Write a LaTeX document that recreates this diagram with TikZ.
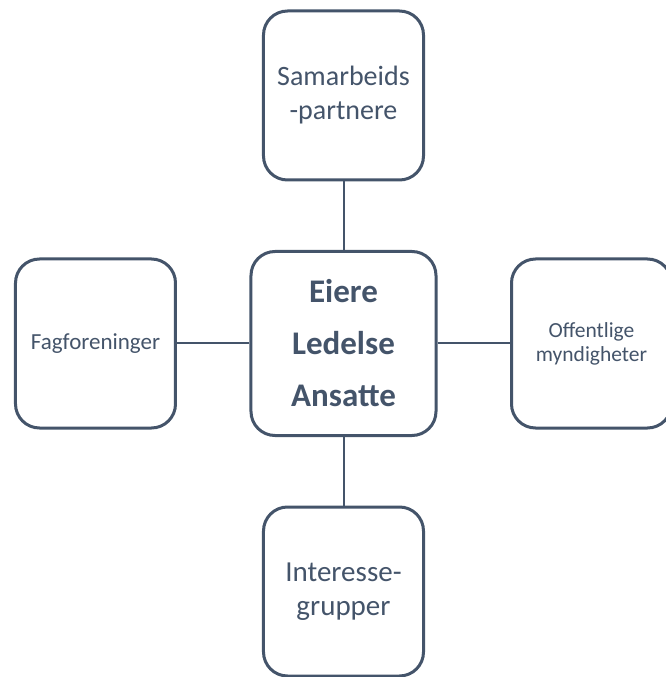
\documentclass[tikz,border=0pt]{standalone}
\usepackage{fontspec}
\setmainfont{Carlito}
\usetikzlibrary{positioning}
\definecolor{slate}{HTML}{44546A}
\tikzstyle{party}=[rectangle,
                   rounded corners=24pt,
                   line width=3pt,
                   draw=slate,
                   fill=white,
                   text=slate,
                   align=center,
                   minimum width=160pt,
                   minimum height=169pt]
\tikzstyle{core}=[party,
                  minimum width=185pt,
                  minimum height=184pt,
                  font=\fontsize{33}{52}\selectfont\bfseries]
\tikzstyle{link}=[line width=2pt,draw=slate]

\begin{document}
\begin{tikzpicture}[x=1pt,y=1pt,node distance=248pt]
    \useasboundingbox (-343.5,-333.5) rectangle (321.5,343.5);
    \node[core] (company) at (0,0) {Eiere\\Ledelse\\Ansatte};
    \node[party, above of=company, font=\fontsize{28}{34}\selectfont] (partners) {Samarbeids\\-partnere};
    \node[party, left of=company, font=\fontsize{23}{28}\selectfont] (unions) {Fagforeninger};
    \node[party, right of=company, font=\fontsize{21.5}{24}\selectfont] (authorities) {Offentlige\\myndigheter};
    \node[party, below of=company, font=\fontsize{29}{34}\selectfont] (groups) {Interesse-\\grupper};
    \path[link] (company) edge (partners)
   (company) edge (unions)
   (company) edge (authorities)
   (company) edge (groups);
\end{tikzpicture}
\end{document}
